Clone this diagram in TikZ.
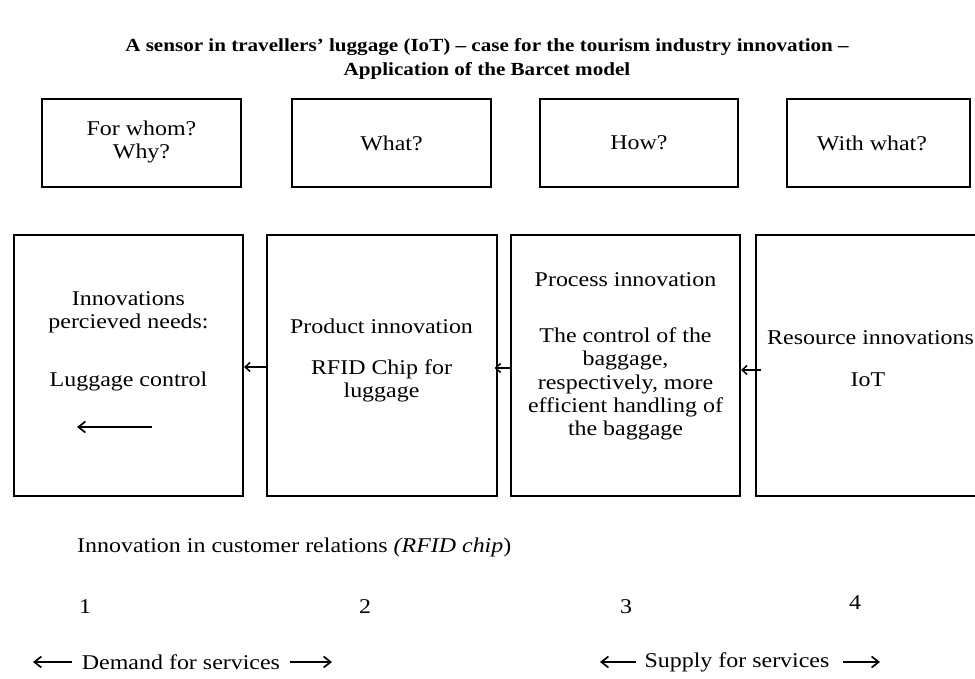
\documentclass[tikz,border=0pt]{standalone}
\usepackage{fontspec}
\setmainfont[FakeStretch=1.14]{Liberation Serif}
\usetikzlibrary{arrows.meta}
\begin{document}
\begin{tikzpicture}[x=1pt,y=-1pt,
  box/.style={draw,line width=2pt},
  txt/.style={font=\fontsize{21}{23.3}\selectfont,align=center,inner sep=0pt},
  arr/.style={line width=1.7pt,-{Straight Barb[length=7pt,width=11pt]}},
  sarr/.style={line width=1.5pt,-{Straight Barb[length=5pt,width=9pt]}}]
\useasboundingbox (0,0) rectangle (975,679);
\clip (0,0) rectangle (975,679);
% title
\node[font=\bfseries\fontsize{18.5}{24}\selectfont,align=center] (title) at (487,59) {A sensor in travellers' luggage (IoT) -- case for the tourism industry innovation --\\Application of the Barcet model};
% top boxes
\draw[box] (42,99) rectangle (241,187);
\node[txt] (q1) at (141.5,142) {For whom?\\Why?};
\draw[box] (292,99) rectangle (491,187);
\node[txt] (q2) at (391.5,143) {What?};
\draw[box] (540,99) rectangle (738,187);
\node[txt] (q3) at (639,143) {How?};
\draw[box] (787,99) rectangle (970,187);
\node[txt] (q4) at (872,143) {With what?};
% bottom boxes
\node[box,minimum width=229pt,minimum height=261pt,inner sep=0pt] (A) at (128.5,365.5) {};
\node[box,minimum width=230pt,minimum height=261pt,inner sep=0pt] (B) at (381.5,365.5) {};
\node[box,minimum width=229pt,minimum height=261pt,inner sep=0pt] (C) at (625.5,365.5) {};
\node[box,minimum width=228pt,minimum height=261pt,inner sep=0pt] (D) at (870,365.5) {};
\node[txt] (a1) at (128.5,312) {Innovations\\percieved needs:};
\node[txt] (a2) at (128.5,381) {Luggage control};
\node[txt] (b1) at (381.5,326) {Product innovation};
\node[txt] (b2) at (381.5,381) {RFID Chip for\\luggage};
\node[txt] (c1) at (625.5,280) {Process innovation};
\node[txt] (c2) at (625.5,384) {The control of the\\baggage,\\respectively, more\\efficient handling of\\the baggage};
\node[txt,anchor=west] (d1) at (767,338) {Resource innovations};
\node[txt] (d2) at (868,380) {IoT};
% arrows between boxes
\coordinate (ab) at (A.east |- 0,367);
\coordinate (ba) at (B.west |- 0,367);
\draw[sarr] (ba) -- (ab);
\coordinate (bc) at ([xshift=-3pt]B.east |- 0,368);
\coordinate (cb) at (C.west |- 0,368);
\draw[sarr] (cb) -- (bc);
\coordinate (cd) at (C.east |- 0,370);
\coordinate (dc) at ([xshift=6pt]D.west |- 0,370);
\draw[sarr] (dc) -- (cd);
\coordinate (ia) at (152,427);
\coordinate (ib) at (77,427);
\draw[arr] (ia) -- (ib);
% lower texts
\node[txt,anchor=west] (rel) at (77,547) {Innovation in customer relations \textit{(RFID chip})};
\node[txt] (n1) at (85,607) {1};
\node[txt] (n2) at (365,607) {2};
\node[txt] (n3) at (626,607) {3};
\node[txt] (n4) at (855,603) {4};
\node[txt] (dem) at (181,662) {Demand for services};
\node[txt] (sup) at (737,662) {Supply for services};
\coordinate (dl) at (33,662);
\coordinate (dr) at (332,662);
\coordinate (sl) at (600,662);
\coordinate (sr) at (880,662);
\draw[arr] ([xshift=-10pt]dem.west) -- (dl);
\draw[arr] ([xshift=10pt]dem.east) -- (dr);
\draw[arr] ([xshift=-8pt]sup.west) -- (sl);
\draw[arr] ([xshift=13pt]sup.east) -- (sr);
\end{tikzpicture}
\end{document}
